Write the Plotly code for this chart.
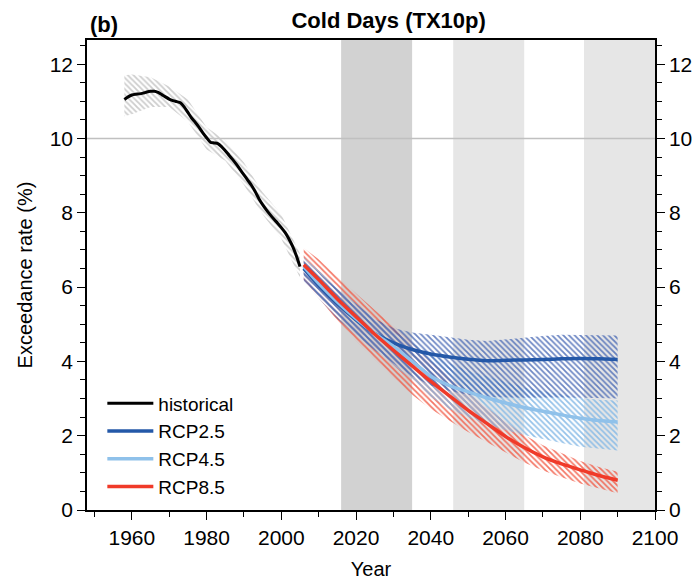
import plotly.graph_objects as go

# ---- data -------------------------------------------------------------
hist_years = list(range(1958, 2006))
hist_mean = [11.05, 11.12, 11.17, 11.19, 11.20, 11.22, 11.25, 11.27, 11.27, 11.24,
             11.18, 11.12, 11.06, 11.02, 10.99, 10.96, 10.85, 10.70, 10.55, 10.43,
             10.30, 10.15, 10.02, 9.90, 9.88, 9.86, 9.78, 9.67, 9.55, 9.43,
             9.30, 9.16, 9.02, 8.88, 8.74, 8.57, 8.38, 8.22, 8.08, 7.95,
             7.83, 7.72, 7.60, 7.47, 7.30, 7.10, 6.85, 6.55]

hist_band_years = [1958, 1960, 1965, 1970, 1975, 1980, 1985, 1990, 1995, 2000, 2005]
hist_upper = [11.70, 11.72, 11.65, 11.40, 11.05, 10.30, 9.95, 9.35, 8.55, 7.95, 6.90]
hist_lower = [10.60, 10.65, 10.85, 10.85, 10.45, 9.70, 9.40, 8.75, 7.95, 7.30, 6.25]

rcp_years = [2006, 2010, 2015, 2020, 2025, 2030, 2035, 2040, 2045, 2050,
             2055, 2060, 2065, 2070, 2075, 2080, 2085, 2090]

rcp26_mean = [6.50, 6.05, 5.55, 5.12, 4.75, 4.50, 4.32, 4.20, 4.12, 4.06,
              4.02, 4.03, 4.04, 4.05, 4.07, 4.08, 4.07, 4.05]
rcp26_upper = [6.75, 6.40, 5.95, 5.55, 5.15, 4.90, 4.78, 4.72, 4.65, 4.58,
               4.55, 4.60, 4.65, 4.68, 4.72, 4.72, 4.72, 4.70]
rcp26_lower = [6.15, 5.70, 5.15, 4.70, 4.30, 3.95, 3.60, 3.35, 3.20, 3.10,
               3.05, 3.03, 3.02, 3.02, 3.03, 3.02, 3.00, 3.00]

rcp45_mean = [6.55, 6.10, 5.60, 5.15, 4.75, 4.40, 4.00, 3.60, 3.35, 3.18,
              3.02, 2.88, 2.76, 2.66, 2.56, 2.47, 2.41, 2.37]
rcp45_upper = [6.80, 6.45, 6.00, 5.55, 5.15, 4.80, 4.50, 4.20, 3.95, 3.75,
               3.60, 3.45, 3.30, 3.20, 3.10, 3.02, 2.97, 2.95]
rcp45_lower = [6.25, 5.75, 5.20, 4.72, 4.30, 3.90, 3.50, 3.05, 2.72, 2.50,
               2.30, 2.15, 2.02, 1.90, 1.80, 1.70, 1.64, 1.60]

rcp85_mean = [6.60, 6.20, 5.68, 5.20, 4.73, 4.30, 3.88, 3.46, 3.07, 2.68,
              2.33, 1.98, 1.68, 1.43, 1.24, 1.08, 0.93, 0.80]
rcp85_upper = [7.05, 6.75, 6.28, 5.82, 5.38, 4.95, 4.50, 4.02, 3.58, 3.15,
               2.75, 2.38, 2.02, 1.74, 1.52, 1.32, 1.16, 1.03]
rcp85_lower = [6.20, 5.70, 5.10, 4.55, 4.05, 3.55, 3.10, 2.72, 2.40, 2.10,
               1.82, 1.55, 1.28, 1.06, 0.88, 0.71, 0.57, 0.45]

# shaded reference periods (start, end, shade)
periods = [(2016, 2035, "#d2d2d2"), (2046, 2065, "#e6e6e6"), (2081, 2100, "#e6e6e6")]

FONT = "Liberation Sans, Arial, Helvetica, sans-serif"

C_HIST = "black"
C_26 = "#2458a8"
C_45 = "#8fc1ea"
C_85 = "#f03a29"

fig = go.Figure()


def band(years, upper, lower, hatch, opacity):
    fig.add_trace(go.Scatter(
        x=list(years) + list(years)[::-1],
        y=list(upper) + list(lower)[::-1],
        mode="lines", line=dict(width=0),
        fill="toself", fillcolor="rgba(0,0,0,0)",
        fillpattern=dict(shape="\\", fgcolor=hatch, bgcolor="rgba(0,0,0,0)",
                         fgopacity=opacity, size=4, solidity=0.45),
        hoverinfo="skip", showlegend=False,
    ))


band(hist_band_years, hist_upper, hist_lower, "#c4c4c4", 0.85)
band(rcp_years, rcp85_upper, rcp85_lower, "#f2553f", 0.8)
band(rcp_years, rcp45_upper, rcp45_lower, "#82b8e6", 0.85)
band(rcp_years, rcp26_upper, rcp26_lower, "#3c5fb0", 0.75)

lines = [
    ("historical", hist_years, hist_mean, C_HIST, 3),
    ("RCP2.5", rcp_years, rcp26_mean, C_26, 3.5),
    ("RCP4.5", rcp_years, rcp45_mean, C_45, 3.5),
    ("RCP8.5", rcp_years, rcp85_mean, C_85, 3.5),
]
for name, xs, ys, col, w in lines:
    fig.add_trace(go.Scatter(
        x=xs, y=ys, mode="lines", name=name,
        line=dict(color=col, width=w, shape="spline", smoothing=0.6),
    ))

# invisible trace so the right-hand axis is drawn
fig.add_trace(go.Scatter(x=[hist_years[0]], y=[hist_mean[0]], yaxis="y2",
                         mode="markers", marker=dict(opacity=0),
                         showlegend=False, hoverinfo="skip"))

shapes = []
for x0, x1, col in periods:
    shapes.append(dict(type="rect", xref="x", yref="paper", x0=x0, x1=x1, y0=0, y1=1,
                       fillcolor=col, line=dict(width=0), layer="below"))
shapes.append(dict(type="line", xref="paper", yref="y", x0=0, x1=1, y0=10, y1=10,
                   line=dict(color="#c0c0c0", width=1.5), layer="below"))

tickfont = dict(family=FONT, size=21, color="black")
yaxis_common = dict(
    range=[0, 12.65], tick0=0, dtick=2, ticks="outside", ticklen=8, tickwidth=1.3,
    tickcolor="black", showgrid=False, zeroline=False, showline=True,
    linecolor="black", linewidth=1.5, tickfont=tickfont, automargin=False,
    minor=dict(dtick=0.5, ticks="outside", ticklen=5, tickcolor="black", tickwidth=1.2,
               showgrid=False),
)

fig.update_layout(
    width=699, height=580,
    margin=dict(l=87, r=44, t=40, b=70),
    plot_bgcolor="white", paper_bgcolor="white",
    shapes=shapes,
    title=dict(text="<b>Cold Days (TX10p)</b>", x=0.556, xanchor="center",
               y=0.965, yanchor="middle",
               font=dict(family=FONT, size=22, color="black")),
    annotations=[dict(text="<b>(b)</b>", xref="paper", yref="paper", x=0.002, y=1.0,
                      xanchor="left", yanchor="bottom", showarrow=False, yshift=1,
                      font=dict(family=FONT, size=22, color="black"))],
    xaxis=dict(
        range=[1948, 2100], tick0=1960, dtick=20, ticks="outside", ticklen=8,
        tickwidth=1.3, tickcolor="black", showgrid=False, zeroline=False,
        showline=True, mirror=True, linecolor="black", linewidth=1.5,
        tickfont=tickfont, automargin=False,
        minor=dict(dtick=10, tick0=1950, ticks="outside", ticklen=5, tickcolor="black",
                   tickwidth=1.2, showgrid=False),
        title=dict(text="Year", font=dict(family=FONT, size=20, color="black"),
                   standoff=14),
    ),
    yaxis=dict(
        **yaxis_common,
        title=dict(text="Exceedance rate (%)",
                   font=dict(family=FONT, size=20, color="black"), standoff=12),
    ),
    yaxis2=dict(**yaxis_common, overlaying="y", side="right", matches="y"),
    legend=dict(x=0.027, y=0.267, xanchor="left", yanchor="top",
                bgcolor="rgba(0,0,0,0)", font=dict(family=FONT, size=19, color="black"),
                tracegroupgap=0, itemwidth=46),
    showlegend=True,
)

fig.write_html("out.html")
